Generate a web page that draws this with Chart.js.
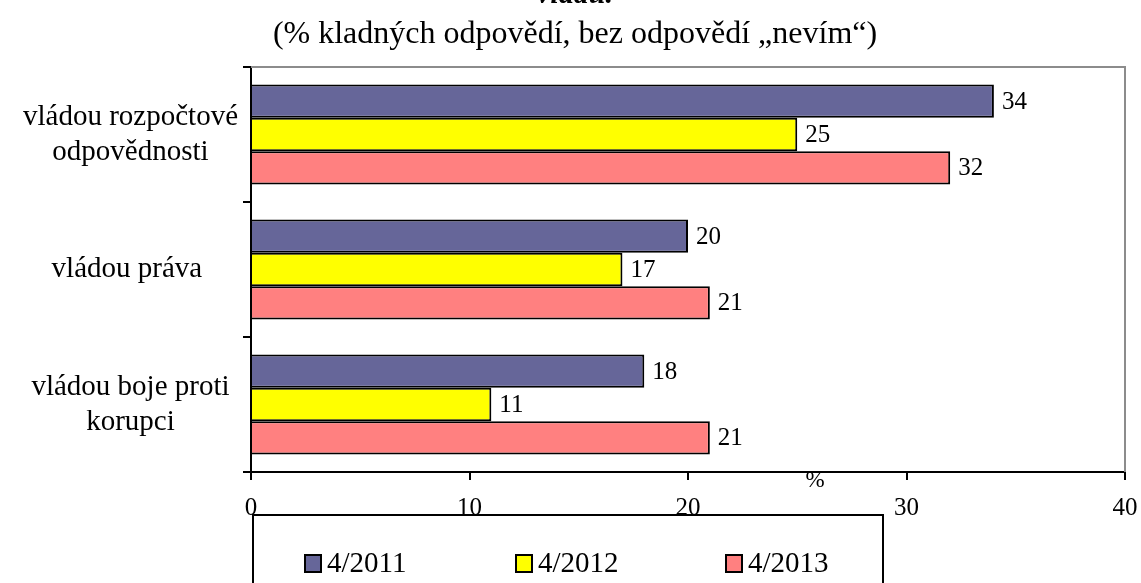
<!DOCTYPE html>
<html>
<head>
<meta charset="utf-8">
<script src="https://cdn.jsdelivr.net/npm/chart.js@4/dist/chart.umd.min.js"></script>
<style>
  html, body { margin: 0; padding: 0; background: #fff; }
  canvas { display: block; }
</style>
</head>
<body>
<canvas id="chart" width="1141" height="583"></canvas>
<script>
  'use strict';

  var categories = [['vládou rozpočtové', 'odpovědnosti'], 'vládou práva ', ['vládou boje proti', 'korupci']];
  var seriesLabels = ['4/2011', '4/2012', '4/2013'];
  var values2011 = [34, 20, 18];
  var values2012 = [25, 17, 11];
  var values2013 = [32, 21, 21];
  var xTicks = [0, 10, 20, 30, 40];
  var colors = ['#666699', '#ffff00', '#ff8080'];

  var serif = '"Liberation Serif", "Times New Roman", serif';

  // Title, value labels, plot frame and boxed legend.
  var decorations = {
    id: 'decorations',
    afterDraw: function (chart) {
      var ctx = chart.ctx;
      var area = chart.chartArea;
      ctx.save();

      // gray frame on top and right
      ctx.strokeStyle = '#8c8c8c';
      ctx.lineWidth = 2;
      ctx.beginPath();
      ctx.moveTo(area.left, area.top);
      ctx.lineTo(area.right, area.top);
      ctx.lineTo(area.right, area.bottom);
      ctx.stroke();

      // title (first line cut off at the top)
      ctx.fillStyle = '#000';
      ctx.textAlign = 'center';
      ctx.textBaseline = 'alphabetic';
      ctx.font = 'italic bold 30px ' + serif;
      ctx.fillText('vládu.', 575, 3);
      ctx.font = '32px ' + serif;
      ctx.fillText('(% kladných odpovědí, bez odpovědí „nevím“)', 575, 43);

      // unit label
      ctx.font = '23px ' + serif;
      ctx.fillText('%', 815, 487);

      // value labels
      ctx.font = '25px ' + serif;
      ctx.textAlign = 'left';
      ctx.textBaseline = 'middle';
      chart.data.datasets.forEach(function (ds, i) {
        chart.getDatasetMeta(i).data.forEach(function (bar, j) {
          ctx.fillText(String(ds.data[j]), bar.x + 8, bar.y + 1);
        });
      });

      // legend box
      ctx.strokeStyle = '#000';
      ctx.lineWidth = 2;
      ctx.strokeRect(253, 515, 630, 80);
      var itemX = [305, 516, 726];
      chart.data.datasets.forEach(function (ds, i) {
        ctx.fillStyle = ds.backgroundColor;
        ctx.fillRect(itemX[i], 555, 16, 17);
        ctx.strokeRect(itemX[i], 555, 16, 17);
        ctx.fillStyle = '#000';
        ctx.font = '29px ' + serif;
        ctx.textAlign = 'left';
        ctx.textBaseline = 'middle';
        ctx.fillText(ds.label, itemX[i] + 22, 564);
      });

      ctx.restore();
    }
  };

  var datasets = [values2011, values2012, values2013].map(function (vals, i) {
    return {
      label: seriesLabels[i],
      data: vals,
      backgroundColor: colors[i],
      borderColor: '#000',
      borderWidth: 2,
      categoryPercentage: 0.74,
      barPercentage: 1
    };
  });

  new Chart(document.getElementById('chart'), {
    type: 'bar',
    data: { labels: categories, datasets: datasets },
    plugins: [decorations],
    options: {
      indexAxis: 'y',
      responsive: false,
      animation: false,
      layout: { padding: { top: 67, right: 16, bottom: 0, left: 0 } },
      plugins: {
        legend: { display: false },
        title: { display: false },
        tooltip: { enabled: false }
      },
      scales: {
        x: {
          min: 0,
          max: 40,
          afterFit: function (scale) {
            scale.height = 111;
            scale.paddingRight = 0;
          },
          afterBuildTicks: function (scale) {
            scale.ticks = xTicks.map(function (v) { return { value: v }; });
          },
          border: { color: '#000', width: 2 },
          grid: { drawOnChartArea: false, color: '#000', lineWidth: 2, tickLength: 8 },
          ticks: {
            color: '#000',
            padding: 13,
            font: { family: serif, size: 25 }
          }
        },
        y: {
          afterFit: function (scale) { scale.width = 251; },
          border: { color: '#000', width: 2 },
          grid: { drawOnChartArea: false, color: '#000', lineWidth: 2, tickLength: 8, offset: true },
          ticks: {
            color: '#000',
            crossAlign: 'center',
            padding: 5,
            font: { family: serif, size: 29, lineHeight: 1.2 }
          }
        }
      }
    }
  });
</script>
</body>
</html>
